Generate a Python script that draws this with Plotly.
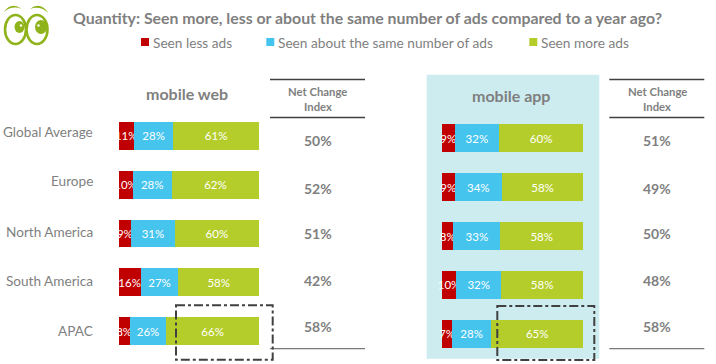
import plotly.graph_objects as go

W, H = 716, 364
categories = ["Global Average", "Europe", "North America", "South America", "APAC"]
web_less = [11, 10, 9, 16, 8]
web_same = [28, 28, 31, 27, 26]
web_more = [61, 62, 60, 58, 66]
app_less = [9, 9, 8, 10, 7]
app_same = [32, 34, 33, 32, 28]
app_more = [60, 58, 58, 58, 65]
web_index = ["50%", "52%", "51%", "42%", "58%"]
app_index = ["51%", "49%", "50%", "48%", "58%"]
series_names = ["Seen less ads", "Seen about the same number of ads", "Seen more ads"]
colors = ["#c00000", "#45c4ee", "#b5cd2b"]
FONT = "Lato"
GREY = "#7f7f7f"

def px(x): return x / W
def py(y): return 1 - y / H

fig = go.Figure()
for vals, name, c in zip([web_less, web_same, web_more], series_names, colors):
    fig.add_trace(go.Bar(y=categories, x=vals, name=name, orientation="h", marker=dict(color=c, line=dict(width=0)),
                         text=[f"{v}%" for v in vals], textposition="inside", insidetextanchor="middle",
                         constraintext="none", textangle=0, textfont=dict(color="white", size=11.5, family=FONT),
                         cliponaxis=False, xaxis="x", yaxis="y", showlegend=False, hoverinfo="skip"))
for vals, name, c in zip([app_less, app_same, app_more], series_names, colors):
    fig.add_trace(go.Bar(y=categories, x=vals, name=name, orientation="h", marker=dict(color=c, line=dict(width=0)),
                         text=[f"{v}%" for v in vals], textposition="inside", insidetextanchor="middle",
                         constraintext="none", textangle=0, textfont=dict(color="white", size=11.5, family=FONT),
                         cliponaxis=False, xaxis="x2", yaxis="y2", showlegend=False, hoverinfo="skip"))

shapes = []
annos = []

def text(x, y, s, size, color=GREY, bold=False, anchor="center"):
    annos.append(dict(xref="paper", yref="paper", x=px(x), y=py(y), text=f"<b>{s}</b>" if bold else s,
                      showarrow=False, xanchor=anchor, yanchor="middle", xshift=0,
                      font=dict(family=FONT, size=size, color=color), align="center"))

def line(x0, y0, x1, y1, color, width, dash="solid"):
    shapes.append(dict(type="line", xref="paper", yref="paper", x0=px(x0), x1=px(x1), y0=py(y0), y1=py(y1),
                       line=dict(color=color, width=width, dash=dash), layer="above"))

# panel behind the mobile app chart
shapes.append(dict(type="rect", xref="paper", yref="paper", x0=px(426.7), x1=px(599.3), y0=py(74.7), y1=py(358.7),
                   fillcolor="#cdecf0", line=dict(width=0), layer="below"))

# title + legend
text(367.5, 17, "Quantity: Seen more, less or about the same number of ads compared to a year ago?", 15.85, bold=True)
legend_x = [(141, 151), (266.3, 276), (529.3, 539)]
for (mx, tx), name, c in zip(legend_x, series_names, colors):
    shapes.append(dict(type="rect", xref="paper", yref="paper", x0=px(mx), x1=px(mx + 8), y0=py(38), y1=py(46),
                       fillcolor=c, line=dict(width=0)))
    text(tx, 42, name, 13.7, anchor="left")

# panel titles
text(187, 94, "mobile web", 16, bold=True)
text(511, 96, "mobile app", 16, bold=True)

# category labels
label_y = [132, 181, 232, 281, 330.5]
for cat, y in zip(categories, label_y):
    text(95, y, cat, 13.6, anchor="right")

# net change tables
index_y = [141, 188, 233.5, 280.5, 326]
for cx, x0, x1, idx in [(317.5, 270, 365, web_index), (657, 609.3, 704.3, app_index)]:
    line(x0, 79.5, x1, 79.5, "#404040", 1.3)
    line(x0, 117.5, x1, 117.5, "#404040", 1.3)
    line(x0, 348.7, x1, 348.7, "#7a7a7a", 1.3)
    text(cx, 91.5, "Net Change", 11.3, bold=True)
    text(cx, 106.5, "Index", 11.3, bold=True)
    for y, s in zip(index_y, idx):
        text(cx, y, s, 14, bold=True)

# dash-dot highlight boxes
for x0, x1, y0, y1 in [(176, 272.7, 305.3, 359.7), (497.3, 594.3, 306, 360)]:
    shapes.append(dict(type="rect", xref="paper", yref="paper", x0=px(x0), x1=px(x1), y0=py(y0), y1=py(y1),
                       fillcolor="rgba(0,0,0,0)", line=dict(color="#404040", width=2, dash="dashdot"), layer="above"))

# logo: pair of eyes
LG = "#8fb31a"
def ell(cx, cy, rx, ry, **kw):
    shapes.append(dict(type="circle", xref="paper", yref="paper", x0=px(cx - rx), x1=px(cx + rx),
                       y0=py(cy - ry), y1=py(cy + ry), **kw))
def pth(points, fill):
    d = "M{},{} Q{},{} {},{} Q{},{} {},{} Z".format(*[
        (round(px(v), 5) if i % 2 == 0 else round(py(v), 5)) for i, v in enumerate(points)])
    shapes.append(dict(type="path", xref="paper", yref="paper", path=d, fillcolor=fill, line=dict(width=0)))
ell(15.5, 29.5, 10.5, 14.5, fillcolor="white", line=dict(color=LG, width=2.6))
ell(37, 29.5, 10.5, 14.5, fillcolor="white", line=dict(color=LG, width=2.6))
ell(19.5, 27, 5, 6, fillcolor=LG, line=dict(width=0))
ell(41, 27, 6, 7, fillcolor=LG, line=dict(width=0))
ell(21, 25.5, 1.2, 1.2, fillcolor="white", line=dict(width=0))
ell(38.5, 25.5, 1.2, 1.2, fillcolor="white", line=dict(width=0))
pth([4, 12, 11, 1, 22, 9, 12, 5, 4, 12], LG)
pth([30, 9, 40, 1, 48.5, 13, 40, 5, 30, 9], LG)

fig.update_layout(
    width=W, height=H, margin=dict(l=0, r=0, t=0, b=0), autosize=False,
    paper_bgcolor="white", plot_bgcolor="rgba(0,0,0,0)", barmode="stack", barnorm="percent", bargap=0.426,
    xaxis=dict(domain=[px(118.5), px(259)], range=[0, 100], visible=False, anchor="y", fixedrange=True),
    yaxis=dict(domain=[py(355.4), py(111.6)], range=[4.5, -0.5], visible=False, anchor="x", type="category",
               categoryorder="array", categoryarray=categories),
    xaxis2=dict(domain=[px(442), px(583)], range=[0, 100], visible=False, anchor="y2", fixedrange=True),
    yaxis2=dict(domain=[py(357.9), py(114.1)], range=[4.5, -0.5], visible=False, anchor="x2", type="category",
                categoryorder="array", categoryarray=categories),
    shapes=shapes, annotations=annos, showlegend=False,
)
fig.write_html("out.html", config={"displayModeBar": False},
               post_script="document.body.style.margin='0';document.documentElement.style.overflow='hidden';")
